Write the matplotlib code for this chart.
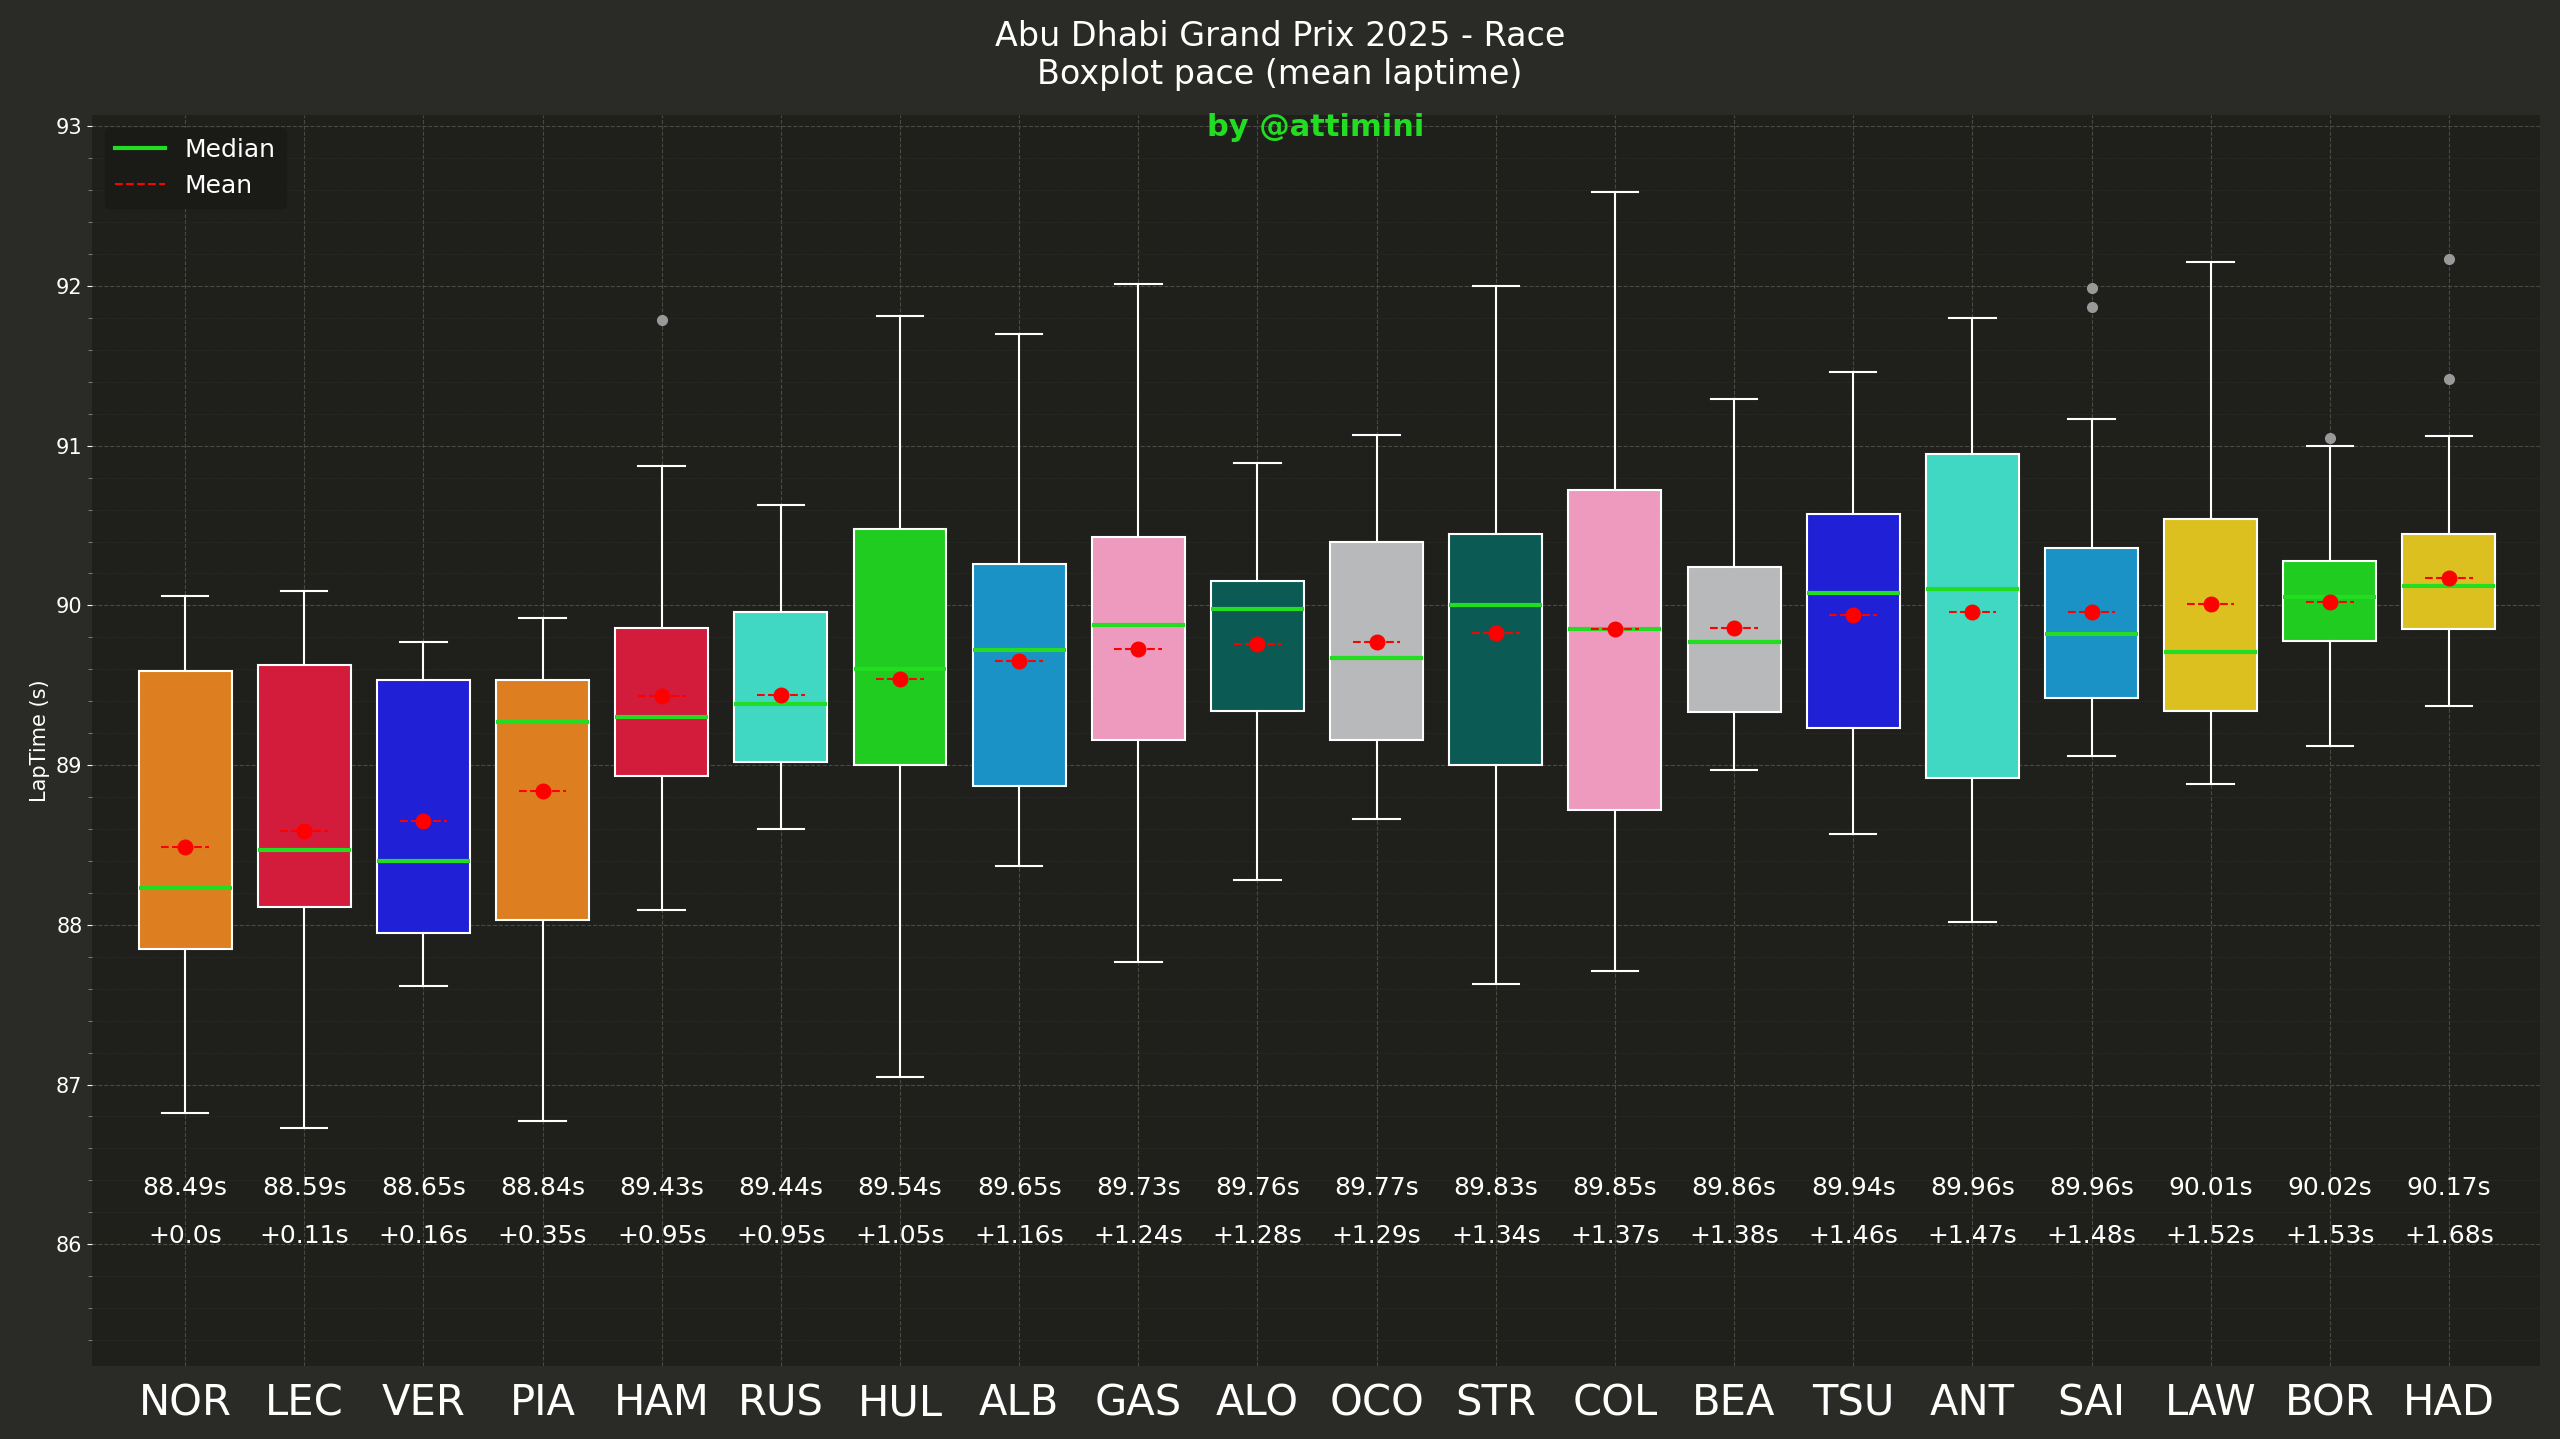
import matplotlib
matplotlib.use('Agg')
import matplotlib.pyplot as plt
from matplotlib.lines import Line2D
from matplotlib.ticker import MultipleLocator

DRIVERS = ["NOR", "LEC", "VER", "PIA", "HAM", "RUS", "HUL", "ALB", "GAS", "ALO",
           "OCO", "STR", "COL", "BEA", "TSU", "ANT", "SAI", "LAW", "BOR", "HAD"]
WHISLO = [86.82, 86.73, 87.62, 86.77, 88.09, 88.60, 87.05, 88.37, 87.77, 88.28,
          88.66, 87.63, 87.71, 88.97, 88.57, 88.02, 89.06, 88.88, 89.12, 89.37]
Q1 = [87.85, 88.11, 87.95, 88.03, 88.93, 89.02, 89.00, 88.87, 89.16, 89.34,
      89.16, 89.00, 88.72, 89.33, 89.23, 88.92, 89.42, 89.34, 89.78, 89.85]
MEDIANS = [88.23, 88.47, 88.40, 89.27, 89.30, 89.38, 89.60, 89.72, 89.88, 89.98,
           89.67, 90.00, 89.85, 89.77, 90.08, 90.10, 89.82, 89.71, 90.05, 90.12]
Q3 = [89.59, 89.63, 89.53, 89.53, 89.86, 89.96, 90.48, 90.26, 90.43, 90.15,
      90.40, 90.45, 90.72, 90.24, 90.57, 90.95, 90.36, 90.54, 90.28, 90.45]
WHISHI = [90.06, 90.09, 89.77, 89.92, 90.87, 90.63, 91.81, 91.70, 92.01, 90.89,
          91.07, 92.00, 92.59, 91.29, 91.46, 91.80, 91.17, 92.15, 91.00, 91.06]
MEANS = [88.49, 88.59, 88.65, 88.84, 89.43, 89.44, 89.54, 89.65, 89.73, 89.76,
         89.77, 89.83, 89.85, 89.86, 89.94, 89.96, 89.96, 90.01, 90.02, 90.17]
DELTAS = ["0.0", "0.11", "0.16", "0.35", "0.95", "0.95", "1.05", "1.16", "1.24", "1.28",
          "1.29", "1.34", "1.37", "1.38", "1.46", "1.47", "1.48", "1.52", "1.53", "1.68"]
OUTLIERS = {"HAM": [91.79], "SAI": [91.99, 91.87], "BOR": [91.05], "HAD": [92.17, 91.42]}
COLORS = ["#dd7f20", "#d31c3c", "#2020d6", "#dd7f20", "#d31c3c", "#40d8c2", "#20cc20",
          "#1a92c6", "#ee9abf", "#0b5b54", "#b7b9ba", "#0b5b54", "#ee9abf", "#b7b9ba",
          "#2020d6", "#40d8c2", "#1a92c6", "#dcc020", "#20cc20", "#dcc020"]

FIG_BG = "#2a2a26"
AX_BG = "#1f1f1c"

stats = []
for i, d in enumerate(DRIVERS):
    stats.append(dict(label=d, whislo=WHISLO[i], q1=Q1[i], med=MEDIANS[i], q3=Q3[i],
                      whishi=WHISHI[i], mean=MEANS[i], fliers=OUTLIERS.get(d, [])))

fig = plt.figure(figsize=(25.6, 14.39), dpi=100, facecolor=FIG_BG)
ax = fig.add_axes([0.036, 0.051, 0.956, 0.869])
ax.set_facecolor(AX_BG)

pos = list(range(len(DRIVERS)))
bp = ax.bxp(stats, positions=pos, widths=0.78, patch_artist=True, showmeans=True, meanline=True,
            medianprops=dict(color="#22dd22", linewidth=3),
            meanprops=dict(color="red", linestyle="--", linewidth=1.5),
            whiskerprops=dict(color="white", linewidth=1.5),
            capprops=dict(color="white", linewidth=1.5),
            boxprops=dict(edgecolor="white", linewidth=1.5),
            flierprops=dict(marker="o", markerfacecolor="#999999", markeredgecolor="#999999", markersize=7))
for patch, c in zip(bp["boxes"], COLORS):
    patch.set_facecolor(c)
for ln in bp["means"]:
    x = ln.get_xdata()
    mid = (x[0] + x[1]) / 2
    ln.set_xdata([mid - 0.2, mid + 0.2])
ax.scatter(pos, MEANS, color="red", s=110, zorder=5)

for i in pos:
    ax.text(i, 86.35, f"{MEANS[i]:.2f}s", color="white", fontsize=18, ha="center", va="center")
    ax.text(i, 86.05, f"+{DELTAS[i]}s", color="white", fontsize=18, ha="center", va="center")

ax.set_ylim(85.24, 93.07)
ax.set_xlim(-0.78, 19.76)
ax.yaxis.set_major_locator(MultipleLocator(1))
ax.yaxis.set_minor_locator(MultipleLocator(0.2))
ax.set_xticks(pos)
ax.set_xticklabels(DRIVERS, fontsize=30, color="white")
ax.tick_params(axis="y", colors="white", labelsize=15)
ax.tick_params(axis="x", colors="white", length=0, pad=12)
ax.tick_params(axis="y", which="minor", colors="#888888", length=3)
ax.grid(True, which="major", color="#4a4a40", linestyle="--", linewidth=0.8)
ax.grid(True, which="minor", color="#33332c", linestyle=":", linewidth=0.6)
ax.set_axisbelow(True)
for s in ax.spines.values():
    s.set_visible(False)
ax.set_ylabel("LapTime (s)", color="white", fontsize=15)

fig.suptitle("Abu Dhabi Grand Prix 2025 - Race\nBoxplot pace (mean laptime)", color="white",
             fontsize=24, y=0.986)
ax.text(0.5, 0.99, "by @attimini", transform=ax.transAxes, color="#22dd22", fontsize=22,
        fontweight="bold", ha="center", va="center")

handles = [Line2D([0], [0], color="#22dd22", linewidth=3),
           Line2D([0], [0], color="red", linestyle="--", linewidth=1.5)]
leg = ax.legend(handles, ["Median", "Mean"], loc="upper left", fontsize=18, facecolor="#1a1a17",
                edgecolor="#1a1a17", labelcolor="white", framealpha=1)

fig.savefig("out.png", dpi=100, facecolor=FIG_BG)
